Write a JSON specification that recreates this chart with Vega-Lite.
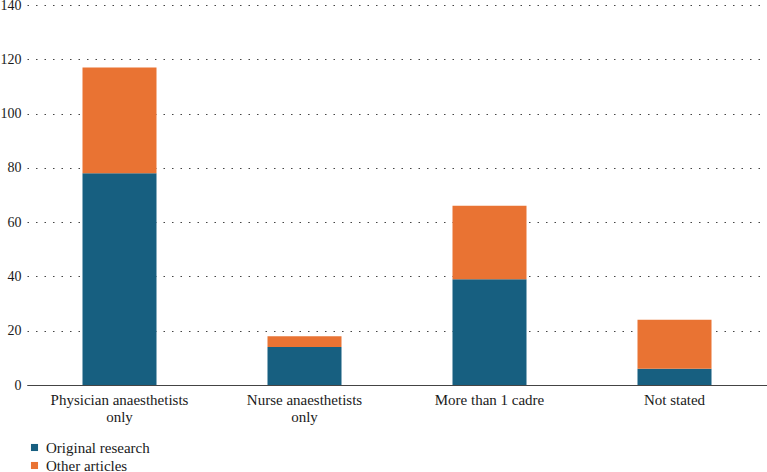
{
  "$schema": "https://vega.github.io/schema/vega-lite/v6.json",
  "width": 740,
  "height": 380,
  "autosize": {"type": "none"},
  "padding": {"left": 27, "top": 5, "right": 0, "bottom": 87},
  "background": "white",
  "config": {
    "view": {"stroke": null},
    "font": "serif"
  },
  "data": {
    "values": [
      {"group": "Physician anaesthetists only", "type": "Original research", "ord": 1, "count": 78},
      {"group": "Physician anaesthetists only", "type": "Other articles", "ord": 2, "count": 39},
      {"group": "Nurse anaesthetists only", "type": "Original research", "ord": 1, "count": 14},
      {"group": "Nurse anaesthetists only", "type": "Other articles", "ord": 2, "count": 4},
      {"group": "More than 1 cadre", "type": "Original research", "ord": 1, "count": 39},
      {"group": "More than 1 cadre", "type": "Other articles", "ord": 2, "count": 27},
      {"group": "Not stated", "type": "Original research", "ord": 1, "count": 6},
      {"group": "Not stated", "type": "Other articles", "ord": 2, "count": 18}
    ]
  },
  "mark": {"type": "bar"},
  "encoding": {
    "x": {
      "field": "group",
      "type": "nominal",
      "sort": ["Physician anaesthetists only", "Nurse anaesthetists only", "More than 1 cadre", "Not stated"],
      "scale": {"paddingInner": 0.6, "paddingOuter": 0.3},
      "axis": {
        "title": null,
        "labelAngle": 0,
        "ticks": false,
        "domainColor": "#444444",
        "domainWidth": 1.2,
        "labelFont": "Liberation Serif",
        "labelFontSize": 15,
        "labelColor": "#1a1a1a",
        "labelPadding": 7,
        "labelLineHeight": 17,
        "labelExpr": "datum.value == 'Physician anaesthetists only' ? ['Physician anaesthetists', 'only'] : datum.value == 'Nurse anaesthetists only' ? ['Nurse anaesthetists', 'only'] : datum.value"
      }
    },
    "y": {
      "field": "count",
      "type": "quantitative",
      "stack": "zero",
      "scale": {"domain": [0, 140], "nice": false},
      "axis": {
        "title": null,
        "values": [0, 20, 40, 60, 80, 100, 120, 140],
        "domain": false,
        "ticks": false,
        "grid": true,
        "gridDash": [1.5, 7],
        "gridColor": "#444444",
        "gridWidth": 1.2,
        "labelFont": "Liberation Serif",
        "labelFontSize": 14,
        "labelColor": "#1a1a1a",
        "labelPadding": 6
      }
    },
    "color": {
      "field": "type",
      "type": "nominal",
      "scale": {"domain": ["Original research", "Other articles"], "range": ["#175f80", "#e97333"]},
      "legend": {
        "title": null,
        "orient": "bottom",
        "direction": "vertical",
        "symbolType": "square",
        "symbolSize": 50,
        "labelFont": "Liberation Serif",
        "labelFontSize": 15,
        "labelColor": "#1a1a1a",
        "rowPadding": 2,
        "offset": 16
      }
    },
    "order": {"field": "ord", "type": "quantitative"}
  }
}
